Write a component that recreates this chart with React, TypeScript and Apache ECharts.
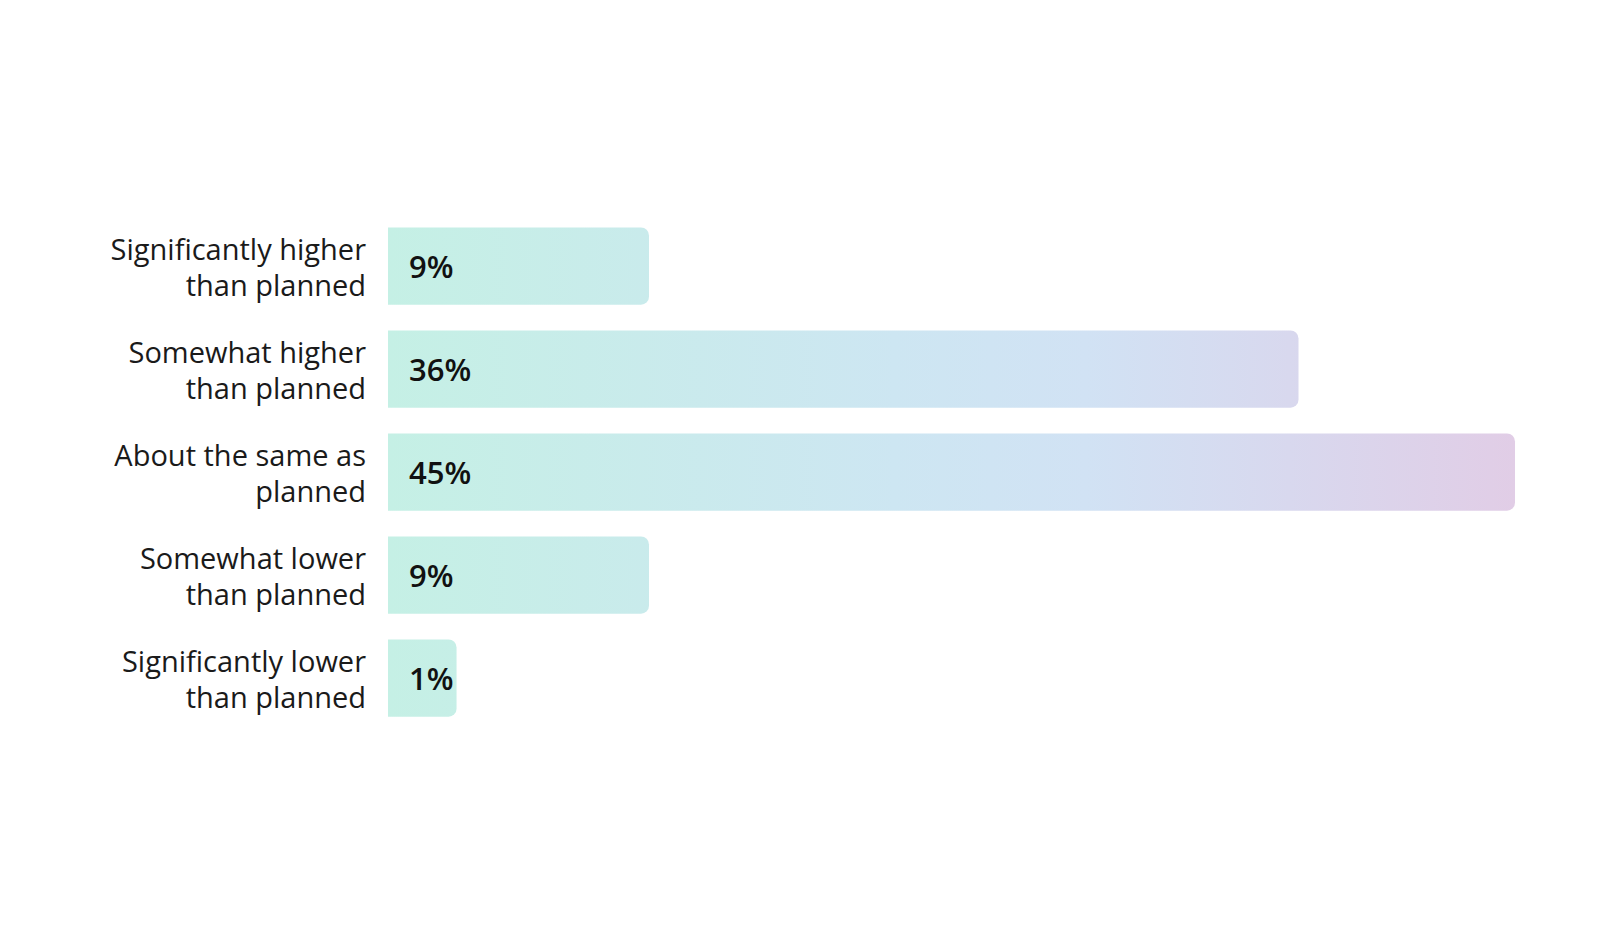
import React, { useEffect, useRef } from "react";
import * as echarts from "echarts";

const categories = [
  "Significantly higher\nthan planned",
  "Somewhat higher\nthan planned",
  "About the same as\nplanned",
  "Somewhat lower\nthan planned",
  "Significantly lower\nthan planned",
];
const shares = [9, 36, 45, 9, 1];

// axis starts a little below zero so each bar keeps a padded stub for its label
const AXIS_MIN = -1.85;
const AXIS_MAX = 45;

const App: React.FC = () => {
  const chartRef = useRef<HTMLDivElement>(null);

  useEffect(() => {
    if (!chartRef.current) return;
    const myChart = echarts.init(chartRef.current, undefined, { renderer: "svg" });

    const option: echarts.EChartsOption = {
      animation: false,
      grid: { left: 388, right: 90, top: 214.5, bottom: 208.5, containLabel: false },
      xAxis: {
        type: "value",
        min: AXIS_MIN,
        max: AXIS_MAX,
        show: false,
      },
      yAxis: {
        type: "category",
        inverse: true,
        data: categories,
        axisLine: { show: false },
        axisTick: { show: false },
        axisLabel: {
          margin: 22,
          fontSize: 29,
          lineHeight: 36,
          color: "#1a1a1a",
          fontFamily: "Open Sans",
          align: "right",
        },
      },
      series: [
        {
          type: "custom",
          encode: { x: 0, y: 1 },
          data: shares.map((v, i) => [v, i]),
          renderItem: (params: any, api: any) => {
            const v = api.value(0);
            const cat = api.value(1);
            const start = api.coord([AXIS_MIN, cat]);
            const end = api.coord([v, cat]);
            const full = api.coord([AXIS_MAX, cat]);
            const h = api.size([0, 1])[1] * 0.75;
            const fill = new echarts.graphic.LinearGradient(
              start[0], 0, full[0], 0,
              [
                { offset: 0, color: "#c5f0e5" },
                { offset: 0.45, color: "#cde6f2" },
                { offset: 0.62, color: "#d1e2f4" },
                { offset: 0.8, color: "#d8d8ee" },
                { offset: 1, color: "#e1cde6" },
              ],
              true
            );
            return {
              type: "group",
              children: [
                {
                  type: "rect",
                  shape: {
                    x: start[0],
                    y: start[1] - h / 2,
                    width: end[0] - start[0],
                    height: h,
                    r: [0, 8, 8, 0],
                  },
                  style: { fill },
                },
                {
                  type: "text",
                  style: {
                    text: v + "%",
                    x: start[0] + 21,
                    y: start[1],
                    verticalAlign: "middle",
                    align: "left",
                    fontSize: 31,
                    fontWeight: 600,
                    fontFamily: "Open Sans",
                    fill: "#111111",
                  },
                },
              ],
            };
          },
        },
      ],
    };

    myChart.setOption(option);

    return () => {
      myChart.dispose();
    };
  }, []);

  return (
    <div
      ref={chartRef}
      style={{ position: "absolute", left: 0, top: 0, width: "1605px", height: "938px" }}
    />
  );
};

export default App;
